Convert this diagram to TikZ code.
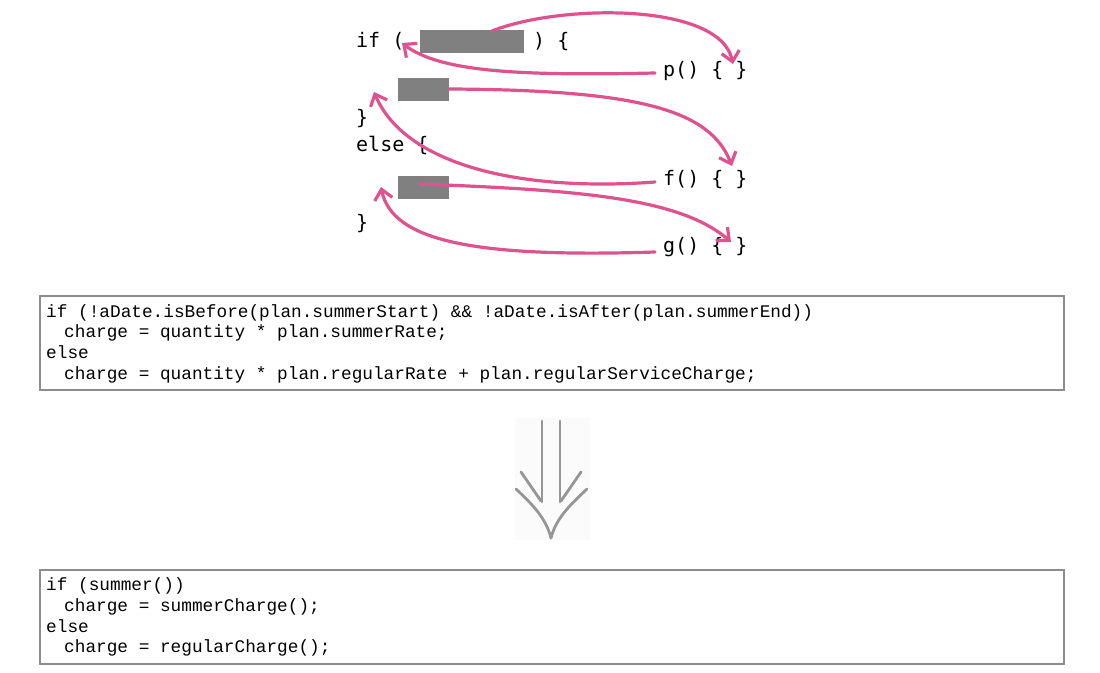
\documentclass[tikz,border=0pt]{standalone}
\usepackage{fontspec}
\setmonofont{Liberation Mono}
\newfontfamily\topfont{DejaVu Sans Mono}
\usetikzlibrary{arrows.meta}
\definecolor{pinkarrow}{RGB}{222,82,142}
\definecolor{blockgray}{RGB}{128,128,128}
\definecolor{framegray}{RGB}{140,140,140}
\definecolor{bigarrow}{RGB}{150,150,150}
\definecolor{faintbg}{RGB}{251,251,251}
\tikzset{
  toptext/.style={anchor=mid west, inner sep=0pt, font=\topfont\fontsize{20}{24}\selectfont, text=black},
  codeline/.style={anchor=mid west, inner sep=0pt, font=\ttfamily\fontsize{17.75}{21}\selectfont, text=black},
  block/.style={fill=blockgray, draw=none},
  frame/.style={draw=framegray, line width=1.5pt},
  link/.style={draw=pinkarrow, line width=3.2pt, line cap=round, -{Straight Barb[length=10pt,width=18pt,line width=3.2pt]}},
  bigline/.style={draw=bigarrow, line width=2.8pt, line cap=round},
}
\begin{document}
\begin{tikzpicture}[x=1pt,y=-1pt]
\useasboundingbox (0,0) rectangle (1100,672);

% top sketch
\node[toptext] (if) at (356,45) {if (};
\node[toptext] (ifend) at (533,45) {) \{};
\node[toptext] (p) at (663,74) {p() \{ \}};
\node[toptext] (close1) at (356,122) {\}};
\node[toptext] (else) at (356,149) {else \{};
\node[toptext] (f) at (663,183) {f() \{ \}};
\node[toptext] (close2) at (356,227) {\}};
\node[toptext] (g) at (663,250) {g() \{ \}};

\path[block] (420,30) rectangle (524,53);
\path[block] (398,78) rectangle (449,101);
\path[block] (398,176) rectangle (449,199);
\coordinate (b1) at (492,31);
\coordinate (b2) at (449,89);
\coordinate (b3) at (419,184);
\coordinate (pin) at (733,64);
\coordinate (pout) at (655,73);
\coordinate (iftip) at (402,43);
\coordinate (fin) at (732,166);
\coordinate (fout) at (655,182);
\coordinate (t2) at (374,92);
\coordinate (gin) at (731,242);
\coordinate (gout) at (655,252);
\coordinate (t3) at (381,187);

\draw[link] (b1) .. controls (560,4) and (720,2) .. (pin);
\draw[link] (pout) .. controls (520,76) and (440,72) .. (iftip);
\draw[link] (b2) .. controls (640,90) and (710,110) .. (fin);
\draw[link] (fout) .. controls (520,192) and (405,165) .. (t2);
\draw[link] (b3) .. controls (580,190) and (680,198) .. (gin);
\draw[link] (gout) .. controls (470,258) and (392,240) .. (t3);

% top code box
\draw[frame] (40,296) rectangle (1064,390);
\node[codeline] (c1) at (46,315) {if (!aDate.isBefore(plan.summerStart) \&\& !aDate.isAfter(plan.summerEnd))};
\node[codeline] (c2) at (46,335.5) {\hspace*{18pt}charge = quantity * plan.summerRate;};
\node[codeline] (c3) at (46,356) {else};
\node[codeline] (c4) at (46,377) {\hspace*{18pt}charge = quantity * plan.regularRate + plan.regularServiceCharge;};

% big arrow
\fill[faintbg] (515,418) rectangle (590,540);
\draw[bigline] (542,421) -- (542,502);
\draw[bigline] (560,421) -- (560,502);
\draw[bigline] (521,472) -- (541,501);
\draw[bigline] (581,472) -- (561,501);
\draw[bigline] (516,489) .. controls (532,504) and (546,518) .. (551,538);
\draw[bigline] (587,489) .. controls (571,504) and (556,518) .. (551,538);

% bottom code box
\draw[frame] (40,570) rectangle (1064,664);
\node[codeline] (d1) at (46,588.5) {if (summer())};
\node[codeline] (d2) at (46,609) {\hspace*{18pt}charge = summerCharge();};
\node[codeline] (d3) at (46,630) {else};
\node[codeline] (d4) at (46,650.5) {\hspace*{18pt}charge = regularCharge();};
\end{tikzpicture}
\end{document}
